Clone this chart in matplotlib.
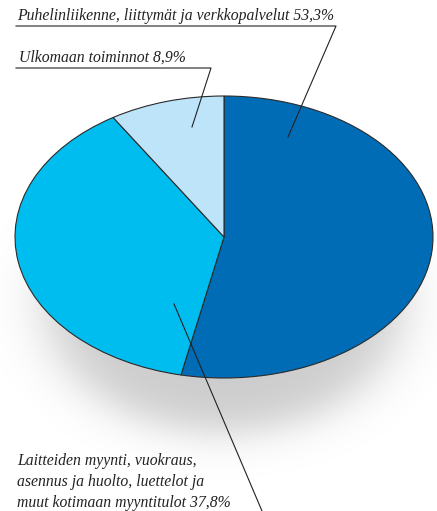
import numpy as np
import matplotlib
matplotlib.use("Agg")
import matplotlib.pyplot as plt

# osuudet liikevaihdosta (%)
labels = ["Puhelinliikenne, liittymät ja verkkopalvelut",
          "Laitteiden myynti, vuokraus,\nasennus ja huolto, luettelot ja\nmuut kotimaan myyntitulot",
          "Ulkomaan toiminnot"]
values = [53.3, 37.8, 8.9]
colors = ["#006cb6", "#00bdf0", "#bde4f8"]

W, H = 437, 511
fig = plt.figure(figsize=(W / 100, H / 100), dpi=100)

def px_axes(x0, y0, x1, y1, **kw):
    # akselit pikselikoordinaateilla (y alaspäin)
    return fig.add_axes([x0 / W, 1 - y1 / H, (x1 - x0) / W, (y1 - y0) / H], **kw)

# varjo
bg = px_axes(0, 0, W, H, zorder=0)
bg.set_xlim(0, W)
bg.set_ylim(H, 0)
bg.axis("off")
yy, xx = np.mgrid[0:H, 0:W] + 0.5
d = np.sqrt(((xx - 224) / 178) ** 2 + ((yy - 300) / 132) ** 2)
shade = 0.2 / (1 + np.exp((d - 1) / 0.09))
rgba = np.zeros((H, W, 4))
rgba[..., 3] = shade
bg.imshow(rgba, extent=(0, W, H, 0), interpolation="bilinear")

# piirakka, venytetty ellipsiksi
ax = px_axes(15, 96, 433, 378, zorder=1)
ax.pie(values, colors=colors, startangle=90, counterclock=False,
       wedgeprops=dict(edgecolor="#2a2a2a", linewidth=0.8))
ax.set_aspect("auto")
ax.set_xlim(-1, 1)
ax.set_ylim(-1, 1)

# tekstit ja viivat
fg = px_axes(0, 0, W, H, zorder=2)
fg.set_xlim(0, W)
fg.set_ylim(H, 0)
fg.axis("off")
fg.patch.set_alpha(0)

font = dict(family="Liberation Serif", style="italic", fontsize=11.3, color="#222222")
lc = dict(color="#222222", linewidth=0.8)

fg.text(17, 20, f"{labels[0]} {values[0]:.1f}%".replace(".", ","), va="baseline", **font)
fg.plot([16, 336, 288], [26, 26, 137], **lc)

fg.text(19, 62, f"{labels[2]} {values[2]:.1f}%".replace(".", ","), va="baseline", **font)
fg.plot([16, 211, 192], [68, 68, 127], **lc)

fg.text(17, 507, f"{labels[1]} {values[1]:.1f}%".replace(".", ","), va="baseline",
        linespacing=1.4, **font)
fg.plot([174, 262], [304, 511], **lc)

fig.savefig("out.png", dpi=100)
